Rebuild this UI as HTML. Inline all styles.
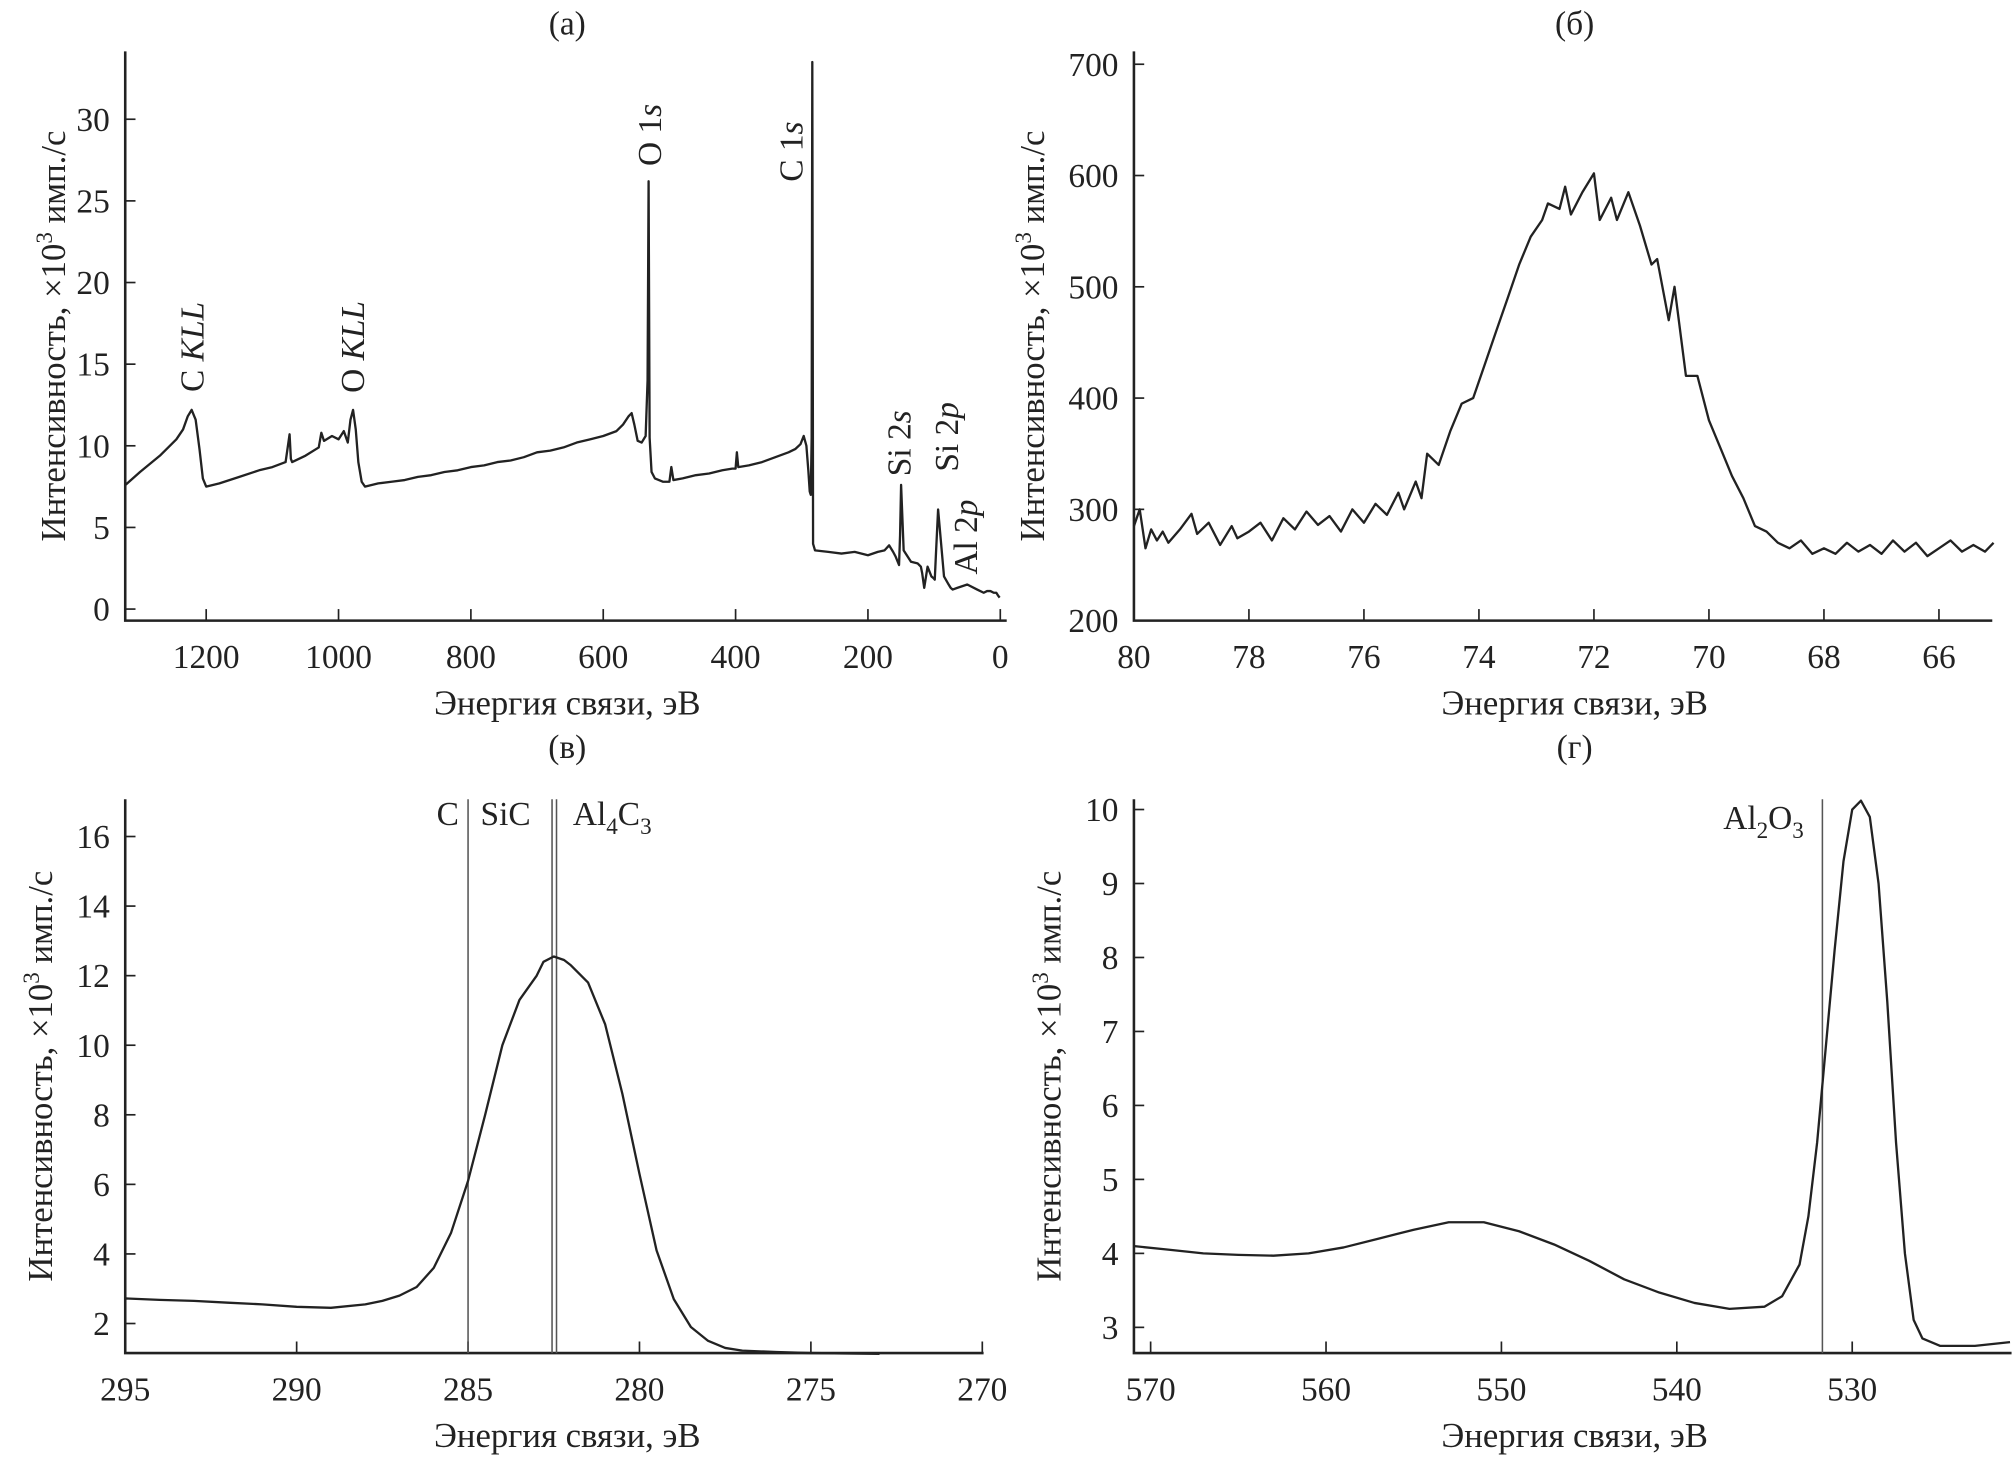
<!DOCTYPE html>
<html><head><meta charset="utf-8"><style>
html,body{margin:0;padding:0;background:#fff}
svg{display:block}
text{font-family:"Liberation Serif",serif;fill:#222}
</style></head><body>
<svg id="fig" width="2016" height="1461" viewBox="0 0 1568 1137" xmlns="http://www.w3.org/2000/svg"></svg>
<script>
// Panel (a) survey spectrum
const aE=[1322,1300,1270,1245,1235,1228,1222,1216,1210,1205,1200,1180,1150,1120,1100,1080,1074,1072,1070,1050,1030,1026,1022,1010,1000,992,986,982,978,974,970,965,960,940,920,900,880,860,840,820,800,780,760,740,720,700,680,660,640,620,600,580,570,562,557,553,548,542,536,533,531.5,530,527,522,510,500,497,494,480,460,440,420,405,400,398,396,380,360,340,320,310,302,297,293,290,288,286.5,285,284,283,280,260,240,220,200,185,175,168,162,158,155,153,151.5,150,146,135,125,120,118,115,110,104,101,99,97,94,85,78,75,72,65,50,35,25,20,15,10,6,3,1];
const aI=[7.6,8.4,9.4,10.4,11.0,11.8,12.2,11.6,9.8,8.0,7.5,7.7,8.1,8.5,8.7,9.0,10.7,9.2,9.0,9.4,9.9,10.8,10.3,10.6,10.4,10.9,10.2,11.6,12.2,11.0,9.0,7.8,7.5,7.7,7.8,7.9,8.1,8.2,8.4,8.5,8.7,8.8,9.0,9.1,9.3,9.6,9.7,9.9,10.2,10.4,10.6,10.9,11.3,11.8,12.0,11.3,10.3,10.2,10.6,14,26.2,10.5,8.4,8.0,7.8,7.8,8.7,7.9,8.0,8.2,8.3,8.5,8.6,8.6,9.6,8.7,8.8,9.0,9.3,9.6,9.8,10.1,10.6,10.0,8.5,7.2,7.0,10.5,33.5,4.0,3.6,3.5,3.4,3.5,3.3,3.5,3.6,3.9,3.5,3.2,2.9,2.7,4.5,7.6,3.6,2.9,2.8,2.6,2.2,1.3,2.6,2.0,1.9,1.8,3.5,6.1,2.0,1.5,1.3,1.2,1.3,1.5,1.2,1.0,1.1,1.1,1.0,1.0,0.8,0.7,0.5,0.3,0.1,0];
const aXTicks=[1200,1000,800,600,400,200,0];
const aYTicks=[0,5,10,15,20,25,30];
// Panel (б) Al 2p
const bE=[80,79.9,79.8,79.7,79.6,79.5,79.4,79.2,79.0,78.9,78.7,78.5,78.3,78.2,78.0,77.8,77.6,77.4,77.2,77.0,76.8,76.6,76.4,76.2,76.0,75.8,75.6,75.4,75.3,75.1,75.0,74.9,74.7,74.5,74.3,74.1,73.9,73.7,73.5,73.3,73.1,72.9,72.8,72.6,72.5,72.4,72.2,72.0,71.9,71.7,71.6,71.4,71.2,71.0,70.9,70.7,70.6,70.4,70.2,70.0,69.8,69.6,69.4,69.2,69.0,68.8,68.6,68.4,68.2,68.0,67.8,67.6,67.4,67.2,67.0,66.8,66.6,66.4,66.2,66.0,65.8,65.6,65.4,65.2,65.05];
const bI=[285,300,265,282,272,280,270,282,296,278,288,268,285,274,280,288,272,292,282,298,286,294,280,300,288,305,295,315,300,325,310,350,340,370,395,400,430,460,490,520,545,560,575,570,590,565,585,602,560,580,560,585,555,520,525,470,500,420,420,380,355,330,310,285,280,270,265,272,260,265,260,270,262,268,260,272,262,270,258,265,272,262,268,262,270];
const bXTicks=[80,78,76,74,72,70,68,66];
const bYTicks=[200,300,400,500,600,700];
// Panel (в) C 1s
const cE=[295,294,293,292,291,290,289,288,287.5,287,286.5,286,285.5,285,284.5,284,283.5,283,282.8,282.5,282.2,282,281.5,281,280.5,280,279.5,279,278.5,278,277.5,277,276,275,274,273];
const cI=[2.72,2.68,2.65,2.6,2.55,2.48,2.45,2.55,2.65,2.8,3.05,3.6,4.6,6.1,8.0,10.0,11.3,12.0,12.4,12.55,12.45,12.3,11.8,10.6,8.6,6.3,4.1,2.7,1.9,1.5,1.3,1.22,1.18,1.15,1.14,1.13];
const cXTicks=[295,290,285,280,275,270];
const cYTicks=[2,4,6,8,10,12,14,16];
const cLines=[285.0,282.55,282.42];
// Panel (г) O 1s
const dE=[571,569,567,565,563,561,559,557,555,553,551,549,547,545,543,541,539,537,535,534,533,532.5,532,531.5,531,530.5,530,529.5,529,528.5,528,527.5,527,526.5,526,525,523,521];
const dI=[4.1,4.05,4.0,3.98,3.97,4.0,4.08,4.2,4.32,4.42,4.42,4.3,4.12,3.9,3.65,3.47,3.33,3.25,3.28,3.42,3.85,4.5,5.5,6.8,8.1,9.3,10.0,10.12,9.9,9.0,7.4,5.5,4.0,3.1,2.85,2.75,2.75,2.8];
const dXTicks=[570,560,550,540,530];
const dYTicks=[3,4,5,6,7,8,9,10];
const dLines=[531.7];

const NS="http://www.w3.org/2000/svg";
const svg=document.getElementById('fig');
function mk(tag,attrs,parent){const e=document.createElementNS(NS,tag);for(const k in attrs)e.setAttribute(k,attrs[k]);(parent||svg).appendChild(e);return e;}
function txt(s,attrs,parent){const t=mk('text',attrs,parent);t.textContent=s;return t;}

function panel(cfg){
  const g=mk('g',{});
  
  
  const X=v=>cfg.x0+(cfg.e0-v)*(cfg.x1-cfg.x0)/(cfg.e0-cfg.e1);
  const Y=v=>cfg.y0-(v-cfg.v0)*(cfg.y0-cfg.y1)/(cfg.v1-cfg.v0);
  const ax=mk('path',{d:`M${cfg.left},${cfg.top} V${cfg.bottom} H${cfg.right}`,fill:'none',stroke:'#222','stroke-width':2},g);
  
  
  cfg.xt.forEach(v=>{const x=X(v);
    const t=mk('line',{x1:x,x2:x,y1:cfg.bottom,y2:cfg.bottom-9,stroke:'#222','stroke-width':1.3},g);
    
    
    const l=txt(String(v),{x:x,y:cfg.bottom+37,'text-anchor':'middle','font-size':26},g);
    
    
  });
  cfg.yt.forEach(v=>{const y=Y(v);
    const t=mk('line',{x1:cfg.left,x2:cfg.left+8,y1:y,y2:y,stroke:'#222','stroke-width':1.3},g);
    
    
    const l=txt(String(v),{x:cfg.left-12,y:y+9,'text-anchor':'end','font-size':26},g);
    
    
  });
  (cfg.lines||[]).forEach(v=>{const x=X(v);
    const l=mk('line',{x1:x,x2:x,y1:cfg.top,y2:cfg.bottom,stroke:'#555','stroke-width':1.2},g);
    
    
  });
  const d=cfg.E.map((e,i)=>(i?'L':'M')+X(e).toFixed(1)+','+Y(cfg.I[i]).toFixed(1)).join(' ');
  const p=mk('path',{d:d,fill:'none',stroke:'#222','stroke-width':1.8,'stroke-linejoin':'round'},g);
  
  
  const tt=txt(cfg.title,{x:cfg.cx,y:cfg.titleY,'text-anchor':'middle','font-size':26},g);
  
  
  const xl=txt('Энергия связи, эВ',{x:cfg.cx,y:cfg.bottom+73,'text-anchor':'middle','font-size':27},g);
  
  
  const yl=mk('text',{transform:`translate(${cfg.ylx},${(cfg.top+cfg.bottom)/2}) rotate(-90)`,'text-anchor':'middle','font-size':27},g);
  yl.innerHTML='Интенсивность, ×10<tspan dy="-10" font-size="18">3</tspan><tspan dy="10"> имп./с</tspan>';
  
  
  return g;
}

const ga=panel({name:'panel-a',E:aE,I:aI,xt:aXTicks,yt:aYTicks,x0:160,x1:778,e0:1200,e1:0,y0:474,y1:92.8,v0:0,v1:30,left:97,right:783,top:40,bottom:483,cx:441,titleY:27,ylx:50,title:'(а)'});
panel({name:'panel-b',E:bE,I:bI,xt:bXTicks,yt:bYTicks,x0:882,x1:1508.5,e0:80,e1:66,y0:483,y1:50,v0:200,v1:700,left:882,right:1550,top:40,bottom:483,cx:1225,titleY:27,ylx:812,title:'(б)'});
const gc=panel({name:'panel-c',E:cE,I:cI,xt:cXTicks,yt:cYTicks,lines:cLines,x0:97,x1:764,e0:295,e1:270,y0:1030,y1:651,v0:2,v1:16,left:97,right:765,top:622,bottom:1053,cx:441,titleY:590,ylx:40,title:'(в)'});
const gd=panel({name:'panel-d',E:dE,I:dI,xt:dXTicks,yt:dYTicks,lines:dLines,x0:895,x1:1441,e0:570,e1:530,y0:1033,y1:630,v0:3,v1:10,left:882,right:1565,top:622,bottom:1053,cx:1225,titleY:590,ylx:825,title:'(г)'});

// peak labels panel (a)
const peaks=[
 {x:158,y:270,h:'C <tspan font-style="italic">KLL</tspan>'},
 {x:283,y:270,h:'O <tspan font-style="italic">KLL</tspan>'},
 {x:514,y:105,h:'O 1<tspan font-style="italic">s</tspan>'},
 {x:624,y:118,h:'C 1<tspan font-style="italic">s</tspan>'},
 {x:708,y:345,h:'Si 2<tspan font-style="italic">s</tspan>'},
 {x:745,y:340,h:'Si 2<tspan font-style="italic">p</tspan>'},
 {x:760,y:418,h:'Al 2<tspan font-style="italic">p</tspan>'}];
peaks.forEach(p=>{const t=mk('text',{transform:`translate(${p.x},${p.y}) rotate(-90)`,'text-anchor':'middle','font-size':26},ga);
  t.innerHTML=p.h;
  
  
});
// labels panel (в)
[['C',348],['SiC',393]].forEach(a=>{const t=txt(a[0],{x:a[1],y:642,'text-anchor':'middle','font-size':26},gc);
  
  });
const al=mk('text',{x:476,y:642,'text-anchor':'middle','font-size':26},gc);
al.innerHTML='Al<tspan dy="7" font-size="18">4</tspan><tspan dy="-7">C</tspan><tspan dy="7" font-size="18">3</tspan>';


const ao=mk('text',{x:1372,y:645,'text-anchor':'middle','font-size':26},gd);
ao.innerHTML='Al<tspan dy="7" font-size="18">2</tspan><tspan dy="-7">O</tspan><tspan dy="7" font-size="18">3</tspan>';


</script>
</body></html>
